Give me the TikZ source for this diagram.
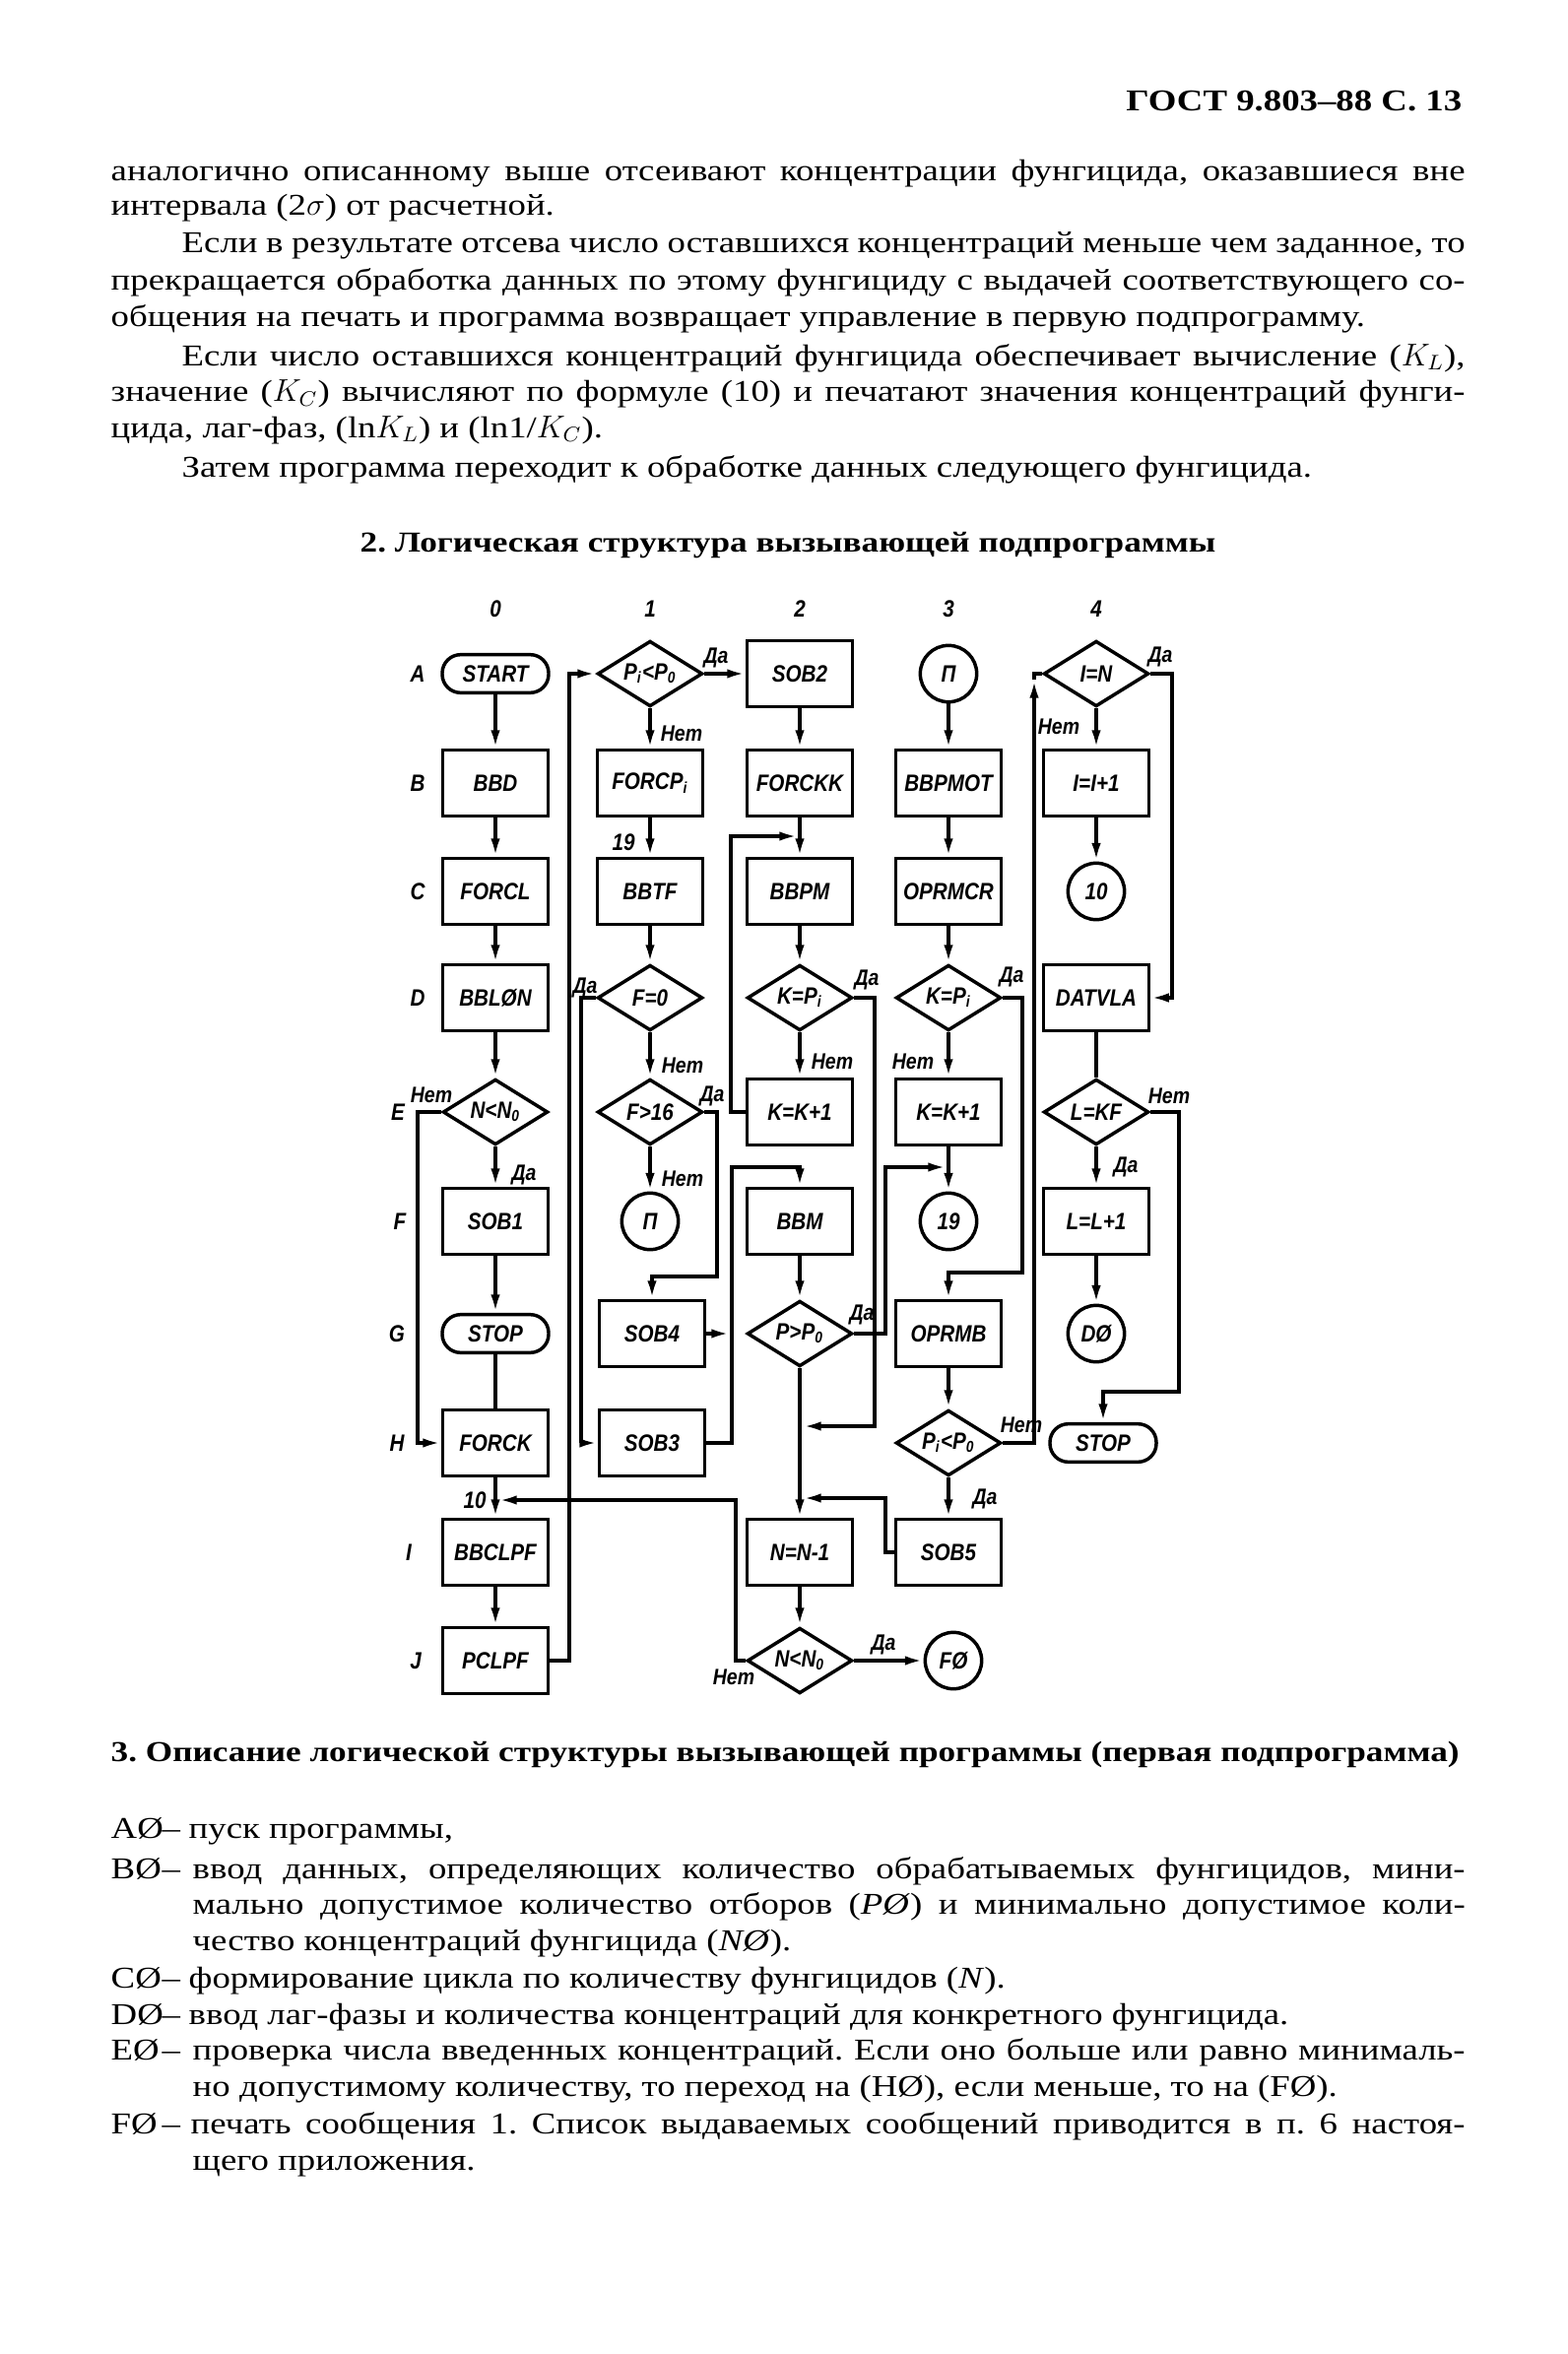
\documentclass[tikz,border=0pt]{standalone}
\usepackage{fontspec}
\setmainfont{Liberation Serif}[FakeStretch=1.2]
\newfontfamily\chartfam{Liberation Sans}[FakeStretch=0.86]
\usetikzlibrary{shapes.geometric,arrows.meta}
\newcommand{\chartfont}{\chartfam\bfseries\itshape\fontsize{9}{10}\selectfont}
\frenchspacing

\begin{document}
\begin{tikzpicture}[x=0.375pt, y=-0.375pt, line width=1.3pt,
  >={Latex[length=7pt,width=3.5pt]},
  txt/.style={anchor=base west, inner sep=0pt, font=\fontsize{11.5}{13.7}\selectfont},
  head/.style={txt, font=\bfseries\fontsize{11}{13.7}\selectfont},
  box/.style={draw, minimum width=40pt, minimum height=25pt, inner sep=0pt, font=\chartfont},
  cond/.style={diamond, draw, aspect=1.6, minimum width=40pt, minimum height=25pt, inner sep=0pt, font=\chartfont},
  term/.style={draw, rounded corners=7pt, minimum width=40.5pt, minimum height=14.5pt, inner sep=0pt, font=\chartfont},
  conn/.style={circle, draw, minimum size=21.5pt, inner sep=0pt, font=\chartfont},
  lbl/.style={inner sep=0pt, font=\chartfont},
  br/.style={inner sep=0pt, font=\chartfam\bfseries\itshape\fontsize{8.5}{9}\selectfont}]
\useasboundingbox (0,0) rectangle (1591,2390);

% page text above the chart
\node[head, anchor=base east, font=\bfseries\fontsize{11.5}{14}\selectfont] (hdr) at (1486,113) {ГОСТ 9.803–88 С. 13};
\node[txt] (p1) at (111,184) {\makebox[515.6pt][s]{аналогично описанному выше отсеивают концентрации фунгицида, оказавшиеся вне}};
\node[txt] (p2) at (111,219) {интервала (2$\sigma$) от расчетной.};
\node[txt] (p3) at (183,257) {\makebox[488.6pt][s]{Если в результате отсева число оставшихся концентраций меньше чем заданное, то}};
\node[txt] (p4) at (111,295) {\makebox[515.6pt][s]{прекращается обработка данных по этому фунгициду с выдачей соответствующего со-}};
\node[txt] (p5) at (111,332) {общения на печать и программа возвращает управление в первую подпрограмму.};
\node[txt] (p6) at (183,371) {\makebox[488.6pt][s]{Если число оставшихся концентраций фунгицида обеспечивает вычисление ($K_L$),}};
\node[txt] (p7) at (111,408) {\makebox[515.6pt][s]{значение ($K_C$) вычисляют по формуле (10) и печатают значения концентраций фунги-}};
\node[txt] (p8) at (111,444) {цида, лаг-фаз, (ln$K_L$) и (ln1/$K_C$).};
\node[txt] (p9) at (183,484) {Затем программа переходит к обработке данных следующего фунгицида.};
\node[head, anchor=base] (t2) at (800,560) {2. Логическая структура вызывающей подпрограммы};

% column numbers and row letters
\foreach \n/\x in {0/503,1/660,2/812,3/963,4/1113}
  \node[lbl] (col\n) at (\x,618) {\n};
\foreach \r/\x/\y in {A/424/684, B/424/795, C/424/905, D/424/1013, E/404/1129,
    F/406/1240, G/403/1354, H/403/1465, I/415/1576, J/422/1686}
  \node[lbl] (row\r) at (\x,\y) {\r};

% column 0
\node[term] (start) at (503,684) {START};
\node[box] (bbd) at (503,795) {BBD};
\node[box] (forcl) at (503,905) {FORCL};
\node[box] (bblon) at (503,1013) {BBLØN};
\node[cond] (nn0) at (503,1129) {N<N\textsubscript{0}};
\node[box] (sob1) at (503,1240) {SOB1};
\node[term] (stop0) at (503,1354) {STOP};
\node[box] (forck) at (503,1465) {FORCK};
\node[box] (bbclpf) at (503,1576) {BBCLPF};
\node[box] (pclpf) at (503,1686) {PCLPF};

% column 1
\node[cond] (pp1) at (660,684) {P\textsubscript{i}<P\textsubscript{0}};
\node[box] (forcp) at (660,795) {FORCP\textsubscript{i}};
\node[box] (bbtf) at (660,905) {BBTF};
\node[cond] (f0) at (660,1013) {F=0};
\node[cond] (f16) at (660,1129) {F>16};
\node[conn] (pi1) at (660,1240) {П};
\node[box] (sob4) at (662,1354) {SOB4};
\node[box] (sob3) at (662,1465) {SOB3};

% column 2
\node[box] (sob2) at (812,684) {SOB2};
\node[box] (forckk) at (812,795) {FORCKK};
\node[box] (bbpm) at (812,905) {BBPM};
\node[cond] (kp2) at (812,1013) {K=P\textsubscript{i}};
\node[box] (kk2) at (812,1129) {K=K+1};
\node[box] (bbm) at (812,1240) {BBM};
\node[cond] (pp0) at (812,1354) {P>P\textsubscript{0}};
\node[box] (nn1) at (812,1576) {N=N-1};
\node[cond] (nn2) at (812,1686) {N<N\textsubscript{0}};

% column 3
\node[conn] (pi3) at (963,684) {П};
\node[box] (bbpmot) at (963,795) {BBPMOT};
\node[box] (oprmcr) at (963,905) {OPRMCR};
\node[cond] (kp3) at (963,1013) {K=P\textsubscript{i}};
\node[box] (kk3) at (963,1129) {K=K+1};
\node[conn] (c19) at (963,1240) {19};
\node[box] (oprmb) at (963,1354) {OPRMB};
\node[cond] (pp3) at (963,1465) {P\textsubscript{i}<P\textsubscript{0}};
\node[box] (sob5) at (963,1576) {SOB5};
\node[conn] (fend) at (968,1686) {FØ};

% column 4
\node[cond] (ieqn) at (1113,684) {I=N};
\node[box] (ii1) at (1113,795) {I=I+1};
\node[conn] (c10) at (1113,905) {10};
\node[box] (datvla) at (1113,1013) {DATVLA};
\node[cond] (lkf) at (1113,1129) {L=KF};
\node[box] (ll1) at (1113,1240) {L=L+1};
\node[conn] (dend) at (1113,1354) {DØ};
\node[term] (stop4) at (1120,1465) {STOP};

% joints on the lines
\coordinate (j2a) at (810,849);
\coordinate (j2b) at (815,1448);
\coordinate (j2c) at (815,1521);
\coordinate (j3a) at (961,1185);
\coordinate (j0a) at (506,1523);
\coordinate (j1a) at (741,1354);
\coordinate (up4) at (1050,690);

\draw[->] (start) -- (bbd);
\draw[->] (bbd) -- (forcl);
\draw[->] (forcl) -- (bblon);
\draw[->] (bblon) -- (nn0);
\draw[->] (nn0) -- (sob1);
\draw[->] (sob1) -- (stop0);
\draw (stop0) -- (forck);
\draw[->] (forck) -- (bbclpf);
\draw[->] (bbclpf) -- (pclpf);
\draw[->] (nn0.west) -- (424,1129) |- (forck.west);
\draw[->] (pclpf.east) -- (578,1686) |- (pp1.west);

\draw[->] (pp1) -- (sob2);
\draw[->] (pp1) -- (forcp);
\draw[->] (forcp) -- (bbtf);
\draw[->] (bbtf) -- (f0);
\draw[->] (f0) -- (f16);
\draw[->] (f16) -- (pi1);
\draw[->] (f0.west) -- (590,1013) |- (sob3.west);
\draw[->] (f16.east) -| (728,1296) -| (sob4.north);
\draw[->] (sob4.east) -- (j1a);
\draw[->] (sob3.east) -- (743,1465) |- (812,1185) -- (bbm.north);

\draw[->] (sob2) -- (forckk);
\draw[->] (forckk) -- (bbpm);
\draw[->] (bbpm) -- (kp2);
\draw[->] (kp2) -- (kk2);
\draw[->] (kk2.west) -- (742,1129) |- (j2a);
\draw[->] (bbm) -- (pp0);
\draw[->] (pp0) -- (nn1);
\draw[->] (nn1) -- (nn2);
\draw[->] (nn2) -- (fend);
\draw[->] (kp2.east) -| (888,1448) -- (j2b);
\draw[->] (pp0.east) -| (899,1185) -- (j3a);
\draw[->] (sob5.west) -- (899,1576) |- (j2c);
\draw[->] (nn2.west) -- (747,1686) |- (j0a);

\draw[->] (pi3) -- (bbpmot);
\draw[->] (bbpmot) -- (oprmcr);
\draw[->] (oprmcr) -- (kp3);
\draw[->] (kp3) -- (kk3);
\draw[->] (kk3) -- (c19);
\draw[->] (kp3.east) -| (1038,1292) -| (oprmb.north);
\draw[->] (oprmb) -- (pp3);
\draw[->] (pp3) -- (sob5);
\draw[->] (pp3.east) -| (up4);
\draw (up4) |- (ieqn.west);

\draw[->] (ieqn) -- (ii1);
\draw[->] (ii1) -- (c10);
\draw[->] (ieqn.east) -| (1190,1013) -- (datvla.east);
\draw (datvla) -- (lkf);
\draw[->] (lkf) -- (ll1);
\draw[->] (ll1) -- (dend);
\draw[->] (lkf.east) -| (1197,1413) -| (stop4.north);

% branch labels
\foreach \x/\y [count=\k] in {727/668, 532/1193, 594/1003, 723/1113, 880/995, 875/1335,
    897/1670, 1027/992, 1000/1522, 1178/667, 1143/1185}
  \node[br] (yes\k) at (\x,\y) {Да};
\foreach \x/\y [count=\k] in {692/745, 438/1112, 693/1082, 693/1197, 845/1078, 745/1703,
    927/1078, 1037/1447, 1075/738, 1187/1113}
  \node[br] (no\k) at (\x,\y) {Нет};
\node[lbl] (m19) at (633,855) {19};
\node[lbl] (m10) at (482,1523) {10};

% page text below the chart
\node[head] (t3) at (111,1788) {3. Описание логической структуры вызывающей программы (первая подпрограмма)};
\foreach \t/\y in {A/1866, B/1907, C/2018, D/2055, E/2091, F/2166} {
  \node[txt] (key\t) at (111,\y) {{\t}Ø};
  \node[txt] (dash\t) at (163,\y) {–};
}
\node[txt] (d1) at (190,1866) {пуск программы,};
\node[txt] (d2) at (194,1907) {\makebox[484.5pt][s]{ввод данных, определяющих количество обрабатываемых фунгицидов, мини-}};
\node[txt] (d3) at (194,1943) {\makebox[484.5pt][s]{мально допустимое количество отборов (\textit{PØ}) и минимально допустимое коли-}};
\node[txt] (d4) at (194,1980) {чество концентраций фунгицида (\textit{NØ}).};
\node[txt] (d5) at (190,2018) {формирование цикла по количеству фунгицидов (\textit{N}).};
\node[txt] (d6) at (190,2055) {ввод лаг-фазы и количества концентраций для конкретного фунгицида.};
\node[txt] (d7) at (194,2091) {\makebox[484.5pt][s]{проверка числа введенных концентраций. Если оно больше или равно минималь-}};
\node[txt] (d8) at (194,2128) {но допустимому количеству, то переход на (HØ), если меньше, то на (FØ).};
\node[txt] (d9) at (192,2166) {\makebox[485.2pt][s]{печать сообщения 1. Список выдаваемых сообщений приводится в п. 6 настоя-}};
\node[txt] (d10) at (194,2203) {щего приложения.};
\end{tikzpicture}
\end{document}
